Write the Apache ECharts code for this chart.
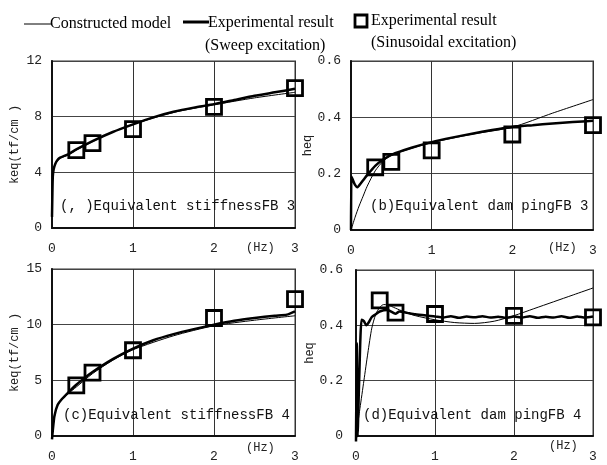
<!DOCTYPE html>
<html><head><meta charset="utf-8">
<script src="https://cdn.jsdelivr.net/npm/echarts@6/dist/echarts.min.js"></script>
<style>html,body{margin:0;padding:0;background:#fff}#c{width:607px;height:465px}</style>
</head><body><div id="c"></div>
<script>
// ---- data ----
const xTicks = [0, 1, 2, 3];
// (a) Equivalent stiffness FB3
const aModelX = [0, 0.005, 0.01, 0.02, 0.05, 0.1, 0.2, 0.3, 0.5, 0.75, 1, 1.5, 2, 2.5, 3];
const aModelY = [0.8, 3.0, 3.8, 4.3, 4.7, 5.0, 5.25, 5.6, 6.2, 6.9, 7.45, 8.3, 8.85, 9.35, 9.75];
const aExpX = [0, 0.005, 0.01, 0.02, 0.04, 0.07, 0.1, 0.2, 0.3, 0.5, 0.75, 1, 1.25, 1.5, 1.75, 2, 2.25, 2.5, 2.75, 3];
const aExpY = [0.8, 2.5, 3.7, 4.2, 4.6, 4.9, 5.05, 5.3, 5.65, 6.25, 6.9, 7.45, 7.95, 8.35, 8.65, 8.9, 9.2, 9.5, 9.75, 10.0];
const aSinX = [0.3, 0.5, 1, 2, 3];
const aSinY = [5.6, 6.1, 7.1, 8.7, 10.05];
// (b) Equivalent damping FB3
const bModelX = [0, 0.05, 0.1, 0.15, 0.2, 0.3, 0.4, 0.5, 0.75, 1, 1.5, 2, 2.5, 3];
const bModelY = [0, 0.045, 0.085, 0.12, 0.155, 0.21, 0.245, 0.265, 0.29, 0.31, 0.34, 0.365, 0.415, 0.463];
const bExpX = [0, 0.005, 0.02, 0.05, 0.08, 0.12, 0.16, 0.2, 0.3, 0.4, 0.5, 0.75, 1, 1.25, 1.5, 1.75, 2, 2.25, 2.5, 2.75, 3];
const bExpY = [0.0, 0.19, 0.18, 0.16, 0.152, 0.165, 0.18, 0.195, 0.228, 0.25, 0.267, 0.292, 0.312, 0.328, 0.342, 0.355, 0.366, 0.372, 0.378, 0.383, 0.388];
const bSinX = [0.3, 0.5, 1, 2, 3];
const bSinY = [0.222, 0.242, 0.283, 0.339, 0.372];
// (c) Equivalent stiffness FB4
const cModelX = [0, 0.02, 0.05, 0.1, 0.2, 0.3, 0.5, 0.75, 1, 1.5, 2, 2.5, 3];
const cModelY = [0, 1.2, 2.4, 3.1, 3.8, 4.4, 5.6, 6.8, 7.75, 9.0, 9.9, 10.4, 10.8];
const cExpX = [0, 0.01, 0.03, 0.07, 0.12, 0.2, 0.3, 0.4, 0.5, 0.75, 1, 1.25, 1.5, 1.75, 2, 2.25, 2.5, 2.75, 2.9, 3];
const cExpY = [-0.3, 0.5, 1.8, 2.8, 3.3, 3.9, 4.6, 5.2, 5.75, 6.9, 7.85, 8.6, 9.15, 9.6, 10.0, 10.35, 10.6, 10.8, 10.9, 11.2];
const cSinX = [0.3, 0.5, 1, 2, 3];
const cSinY = [4.55, 5.7, 7.7, 10.6, 12.3];
// (d) Equivalent damping FB4
const dModelX = [0, 0.05, 0.1, 0.15, 0.2, 0.25, 0.3, 0.35, 0.4, 0.5, 0.6, 0.75, 1, 1.25, 1.5, 1.75, 2, 2.25, 2.5, 2.75, 3];
const dModelY = [0, 0.1, 0.2, 0.3, 0.39, 0.44, 0.465, 0.475, 0.474, 0.462, 0.45, 0.435, 0.42, 0.41, 0.407, 0.415, 0.435, 0.46, 0.485, 0.51, 0.535];
const dExpX = [0, 0.01, 0.02, 0.04, 0.07, 0.1, 0.13, 0.16, 0.2, 0.25, 0.3, 0.4, 0.5, 0.55, 0.65, 0.75, 0.9, 1.0, 1.1, 1.2, 1.3, 1.4, 1.5, 1.6, 1.7, 1.8, 1.9, 2.0, 2.1, 2.2, 2.3, 2.4, 2.5, 2.6, 2.7, 2.8, 2.9, 3.0];
const dExpY = [-0.02, 0.335, 0.0, 0.2, 0.42, 0.415, 0.4, 0.41, 0.43, 0.44, 0.45, 0.455, 0.442, 0.45, 0.445, 0.44, 0.435, 0.432, 0.428, 0.433, 0.427, 0.432, 0.429, 0.433, 0.428, 0.431, 0.427, 0.432, 0.428, 0.433, 0.427, 0.431, 0.428, 0.433, 0.427, 0.432, 0.428, 0.432];
const dSinX = [0.3, 0.5, 1, 2, 3];
const dSinY = [0.49, 0.446, 0.441, 0.434, 0.429];

const panelLabels = ['(, )Equivalent stiffnessFB 3', '(b)Equivalent dam pingFB 3', '(c)Equivalent stiffnessFB 4', '(d)Equivalent dam pingFB 4'];
const yNames = ['keq(tf/cm )', 'heq', 'keq(tf/cm )', 'heq'];
const yMax = [12, 0.6, 15, 0.6];
const yInt = [4, 0.2, 5, 0.2];
const legendTexts = ['Constructed model', 'Experimental result', '(Sweep excitation)', 'Experimental result', '(Sinusoidal excitation)'];

// ---- chart ----
const pairs = (xs, ys) => xs.map((x, i) => [x, ys[i]]);
const grids = [
  {left: 52, top: 61, width: 243, height: 167},
  {left: 351, top: 61, width: 242, height: 169},
  {left: 52, top: 269, width: 243, height: 167},
  {left: 356, top: 270, width: 237, height: 166}
];
const mono = 'Liberation Mono';
const chart = echarts.init(document.getElementById('c'));
const xAxis = [], yAxis = [], series = [];
const panels = [
  [aModelX, aModelY, aExpX, aExpY, aSinX, aSinY],
  [bModelX, bModelY, bExpX, bExpY, bSinX, bSinY],
  [cModelX, cModelY, cExpX, cExpY, cSinX, cSinY],
  [dModelX, dModelY, dExpX, dExpY, dSinX, dSinY]
];
grids.forEach((g, i) => {
  g.show = true; g.borderColor = '#9a9a9a'; g.borderWidth = 2; g.backgroundColor = 'transparent';
  xAxis.push({
    type: 'value', gridIndex: i, min: xTicks[0], max: xTicks[xTicks.length - 1], interval: 1,
    axisLine: {show: true, onZero: false, lineStyle: {color: '#111', width: 2}},
    axisTick: {show: false},
    axisLabel: {fontFamily: mono, fontSize: 13, color: '#222', margin: 14},
    splitLine: {show: true, lineStyle: {color: '#333', width: 1}}
  });
  yAxis.push({
    type: 'value', gridIndex: i, min: 0, max: yMax[i], interval: yInt[i],
    name: yNames[i], nameLocation: 'middle', nameGap: i % 2 === 0 ? 31 : 33,
    nameTextStyle: {fontFamily: mono, fontSize: 12, color: '#222'},
    axisLine: {show: true, lineStyle: {color: '#111', width: 2}},
    axisTick: {show: false},
    axisLabel: {fontFamily: mono, fontSize: 13, color: '#222', margin: i === 3 ? 13 : 10,
      formatter: v => (Math.round(v * 10) / 10).toString()},
    splitLine: {show: true, lineStyle: {color: '#444', width: 1}}
  });
  const p = panels[i];
  series.push({type: 'line', xAxisIndex: i, yAxisIndex: i, data: pairs(p[0], p[1]), showSymbol: false, smooth: 0.25,
    lineStyle: {color: '#000', width: 1}, z: 3, animation: false, clip: false});
  series.push({type: 'line', xAxisIndex: i, yAxisIndex: i, data: pairs(p[2], p[3]), showSymbol: false, smooth: 0.2,
    lineStyle: {color: '#000', width: 2.5}, z: 4, animation: false, clip: false});
  series.push({type: 'scatter', xAxisIndex: i, yAxisIndex: i, data: pairs(p[4], p[5]), symbol: 'rect', symbolSize: 15,
    itemStyle: {color: 'rgba(255,255,255,0)', borderColor: '#000', borderWidth: 2.8, opacity: 1}, z: 5, animation: false, clip: false});
});

const graphic = [
  {type: 'line', shape: {x1: 24, y1: 24, x2: 51, y2: 24}, style: {stroke: '#000', lineWidth: 1}},
  {type: 'text', left: 50, top: 16, style: {text: legendTexts[0], font: '16px "Liberation Serif"', fill: '#000'}},
  {type: 'line', shape: {x1: 183, y1: 22, x2: 209, y2: 22}, style: {stroke: '#000', lineWidth: 3}},
  {type: 'text', left: 208, top: 15, style: {text: legendTexts[1], font: '16px "Liberation Serif"', fill: '#000'}},
  {type: 'text', left: 205, top: 38, style: {text: legendTexts[2], font: '16px "Liberation Serif"', fill: '#000'}},
  {type: 'rect', shape: {x: 355, y: 15, width: 12, height: 12}, style: {stroke: '#000', fill: 'none', lineWidth: 2.8}},
  {type: 'text', left: 371, top: 13, style: {text: legendTexts[3], font: '16px "Liberation Serif"', fill: '#000'}},
  {type: 'text', left: 371, top: 35, style: {text: legendTexts[4], font: '16px "Liberation Serif"', fill: '#000'}},
  {type: 'text', left: 60, top: 199, style: {text: panelLabels[0], font: '14px "Liberation Mono"', fill: '#111'}, z: 10},
  {type: 'text', left: 370, top: 199, style: {text: panelLabels[1], font: '14px "Liberation Mono"', fill: '#111'}, z: 10},
  {type: 'text', left: 63, top: 408, style: {text: panelLabels[2], font: '14px "Liberation Mono"', fill: '#111'}, z: 10},
  {type: 'text', left: 363, top: 408, style: {text: panelLabels[3], font: '14px "Liberation Mono"', fill: '#111'}, z: 10},
  {type: 'text', left: 246, top: 242, style: {text: '(Hz)', font: '12px "Liberation Mono"', fill: '#222'}},
  {type: 'text', left: 548, top: 242, style: {text: '(Hz)', font: '12px "Liberation Mono"', fill: '#222'}},
  {type: 'text', left: 246, top: 442, style: {text: '(Hz)', font: '12px "Liberation Mono"', fill: '#222'}},
  {type: 'text', left: 549, top: 440, style: {text: '(Hz)', font: '12px "Liberation Mono"', fill: '#222'}}
];

chart.setOption({
  animation: false,
  backgroundColor: '#fff',
  grid: grids, xAxis: xAxis, yAxis: yAxis, series: series, graphic: graphic
});
</script></body></html>
